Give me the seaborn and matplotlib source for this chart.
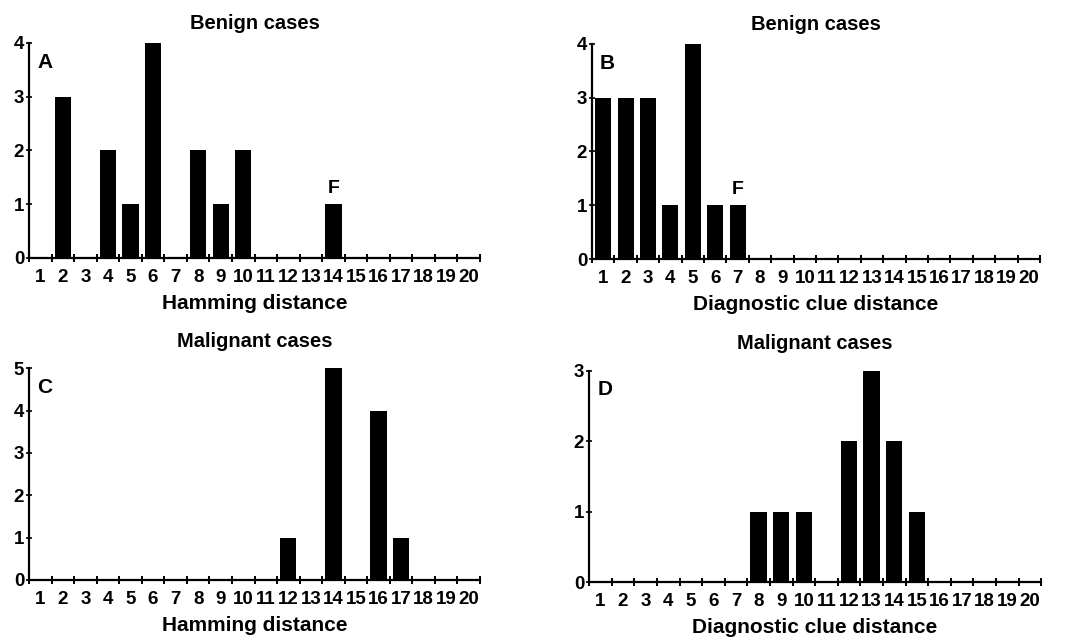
import numpy as np
import pandas as pd
import matplotlib
matplotlib.use("Agg")
import matplotlib.pyplot as plt
import seaborn as sns

distances = list(range(1, 21))
benign_hamming = [0, 3, 0, 2, 1, 4, 0, 2, 1, 2, 0, 0, 0, 1, 0, 0, 0, 0, 0, 0]
benign_clue = [3, 3, 3, 1, 4, 1, 1, 0, 0, 0, 0, 0, 0, 0, 0, 0, 0, 0, 0, 0]
malignant_hamming = [0, 0, 0, 0, 0, 0, 0, 0, 0, 0, 0, 1, 0, 5, 0, 4, 1, 0, 0, 0]
malignant_clue = [0, 0, 0, 0, 0, 0, 0, 1, 1, 1, 0, 2, 3, 2, 1, 0, 0, 0, 0, 0]

panels = [
    dict(vals=benign_hamming, title="Benign cases", xlabel="Hamming distance",
         letter="A", ymax=4, f_at=14, rect=[0.027, 0.597, 0.4195, 0.336], tpad=10),
    dict(vals=benign_clue, title="Benign cases", xlabel="Diagnostic clue distance",
         letter="B", ymax=4, f_at=7, rect=[0.5507, 0.5953, 0.4167, 0.336], tpad=10),
    dict(vals=malignant_hamming, title="Malignant cases", xlabel="Hamming distance",
         letter="C", ymax=5, f_at=None, rect=[0.027, 0.09375, 0.4195, 0.331], tpad=15),
    dict(vals=malignant_clue, title="Malignant cases", xlabel="Diagnostic clue distance",
         letter="D", ymax=3, f_at=None, rect=[0.548, 0.0906, 0.4205, 0.33], tpad=16),
]

sns.set_style("white")
plt.rcParams['font.family'] = ['Liberation Sans', 'DejaVu Sans']
plt.rcParams['font.weight'] = 'bold'
plt.rcParams['text.color'] = 'black'
plt.rcParams['axes.labelcolor'] = 'black'
plt.rcParams['xtick.color'] = 'black'
plt.rcParams['ytick.color'] = 'black'

fig = plt.figure(figsize=(10.75, 6.4), dpi=100)

for p in panels:
    ax = fig.add_axes(p["rect"])
    df = pd.DataFrame({"distance": distances, "count": p["vals"]})
    sns.barplot(data=df, x="distance", y="count", order=distances, color="black",
                width=0.72, linewidth=0, errorbar=None, ax=ax, saturation=1)
    ax.set_xlim(-0.5, 19.5)
    ax.set_ylim(0, p["ymax"])
    ax.set_xticks(range(20))
    ax.set_xticklabels([str(d) for d in distances], fontsize=13.5, fontweight='bold')
    ax.set_xticks(np.arange(-0.5, 20.0, 1.0), minor=True)
    ax.tick_params(axis='x', which='major', length=0, pad=8, bottom=True)
    ax.tick_params(axis='x', which='minor', length=6, width=1.4, direction='inout',
                   color='black', bottom=True)
    ax.set_yticks(range(p["ymax"] + 1))
    ax.set_yticklabels([str(v) for v in range(p["ymax"] + 1)], fontsize=13.5,
                       fontweight='bold')
    ax.tick_params(axis='y', length=5, width=1.2, direction='inout', pad=1,
                   color='black', left=True)
    for s in ["top", "right"]:
        ax.spines[s].set_visible(False)
    for s in ["left", "bottom"]:
        ax.spines[s].set_color("black")
        ax.spines[s].set_linewidth(1.6)
    ax.set_ylabel("")
    ax.set_xlabel(p["xlabel"], fontsize=15, fontweight='bold', labelpad=6,
                  color='black')
    ax.set_title(p["title"], fontsize=14.5, fontweight='bold', pad=p["tpad"],
                 color='black')
    ax.text(0.018, 0.955, p["letter"], transform=ax.transAxes, fontsize=15,
            fontweight='bold', va='top', ha='left', color='black')
    if p["f_at"] is not None:
        idx = distances.index(p["f_at"])
        ax.annotate("F", xy=(idx, p["vals"][idx]), xytext=(0, 5),
                    textcoords='offset points', ha='center', va='bottom',
                    fontsize=14, fontweight='bold', color='black')
    ax.set_facecolor("white")

fig.savefig("out.png", dpi=100, facecolor="white")
